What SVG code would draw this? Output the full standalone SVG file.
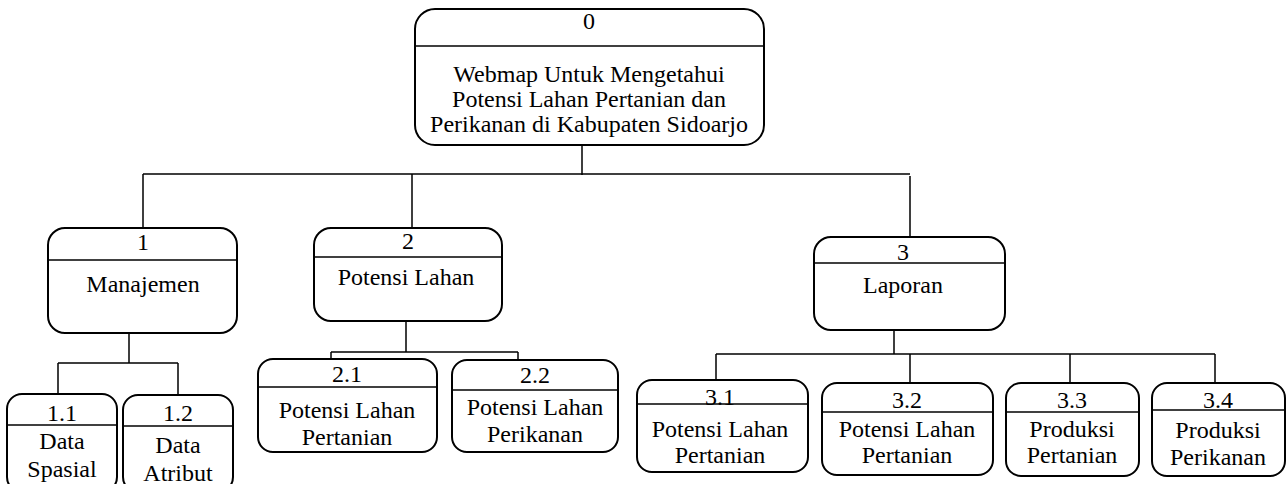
<svg xmlns="http://www.w3.org/2000/svg" width="1287" height="484" viewBox="0 0 1287 484">
<style>
.box{fill:#fff;stroke:#000;stroke-width:2}
.div{stroke:#000;stroke-width:1.6}
.con{fill:none;stroke:#000;stroke-width:1.5}
.t{font-family:'Liberation Serif','Times New Roman','DejaVu Serif',serif;font-size:24px;fill:#000;text-anchor:middle}
</style>
<rect width="1287" height="484" fill="#fff"/>
<g id="connectors">
<path class="con" d="M582 145V175M143 174H910M143 174V228M412 174V228M910 176V237"/>
<path class="con" d="M129 333V363M58 363H178M58 363V394M178 363V395"/>
<path class="con" d="M406 321V352M331 352H518M331 352V359M518 352V360"/>
<path class="con" d="M894 330V354M716 354H1215M716 354V380M910 354V383M1070 354V383M1215 354V383"/>
</g>
<g class="t" font-family="Liberation Serif, Times New Roman, DejaVu Serif, serif">
<g id="node0">
<rect class="box" x="415" y="9" width="349" height="136" rx="20"/>
<line class="div" x1="415" y1="46" x2="764" y2="46"/>
<text x="589" y="29">0</text>
<text x="589" y="82">Webmap Untuk Mengetahui</text>
<text x="589" y="107">Potensi Lahan Pertanian dan</text>
<text x="589" y="132">Perikanan di Kabupaten Sidoarjo</text>
</g>
<g id="node1">
<rect class="box" x="48" y="228" width="189" height="105" rx="17"/>
<line class="div" x1="48" y1="260" x2="237" y2="260"/>
<text x="143" y="250">1</text>
<text x="143" y="292">Manajemen</text>
</g>
<g id="node1_1">
<rect class="box" x="7" y="394" width="110" height="98" rx="15"/>
<line class="div" x1="7" y1="425" x2="117" y2="425"/>
<text x="62" y="421">1.1</text>
<text x="62" y="449">Data</text>
<text x="62" y="477">Spasial</text>
</g>
<g id="node1_2">
<rect class="box" x="123" y="395" width="110" height="97" rx="15"/>
<line class="div" x1="123" y1="426" x2="233" y2="426"/>
<text x="178" y="421">1.2</text>
<text x="178" y="453">Data</text>
<text x="178" y="481">Atribut</text>
</g>
<g id="node2">
<rect class="box" x="314" y="228" width="188" height="93" rx="17"/>
<line class="div" x1="314" y1="257" x2="502" y2="257"/>
<text x="408" y="249">2</text>
<text x="406" y="285">Potensi Lahan</text>
</g>
<g id="node2_1">
<rect class="box" x="258" y="359" width="179" height="93" rx="15"/>
<line class="div" x1="258" y1="387" x2="437" y2="387"/>
<text x="347" y="382">2.1</text>
<text x="347" y="418">Potensi Lahan</text>
<text x="347" y="445">Pertanian</text>
</g>
<g id="node2_2">
<rect class="box" x="452" y="360" width="166" height="92" rx="15"/>
<line class="div" x1="452" y1="390" x2="618" y2="390"/>
<text x="535" y="383">2.2</text>
<text x="535" y="415">Potensi Lahan</text>
<text x="535" y="442">Perikanan</text>
</g>
<g id="node3">
<rect class="box" x="814" y="237" width="191" height="93" rx="17"/>
<line class="div" x1="814" y1="263" x2="1005" y2="263"/>
<text x="903" y="260">3</text>
<text x="903" y="293">Laporan</text>
</g>
<g id="node3_1">
<rect class="box" x="637" y="380" width="171" height="92" rx="15"/>
<line class="div" x1="637" y1="404" x2="808" y2="404"/>
<text x="720" y="405">3.1</text>
<text x="720" y="437">Potensi Lahan</text>
<text x="720" y="463">Pertanian</text>
</g>
<g id="node3_2">
<rect class="box" x="822" y="383" width="171" height="92" rx="15"/>
<line class="div" x1="822" y1="412" x2="993" y2="412"/>
<text x="907" y="408">3.2</text>
<text x="907" y="437">Potensi Lahan</text>
<text x="907" y="463">Pertanian</text>
</g>
<g id="node3_3">
<rect class="box" x="1006" y="383" width="133" height="93" rx="15"/>
<line class="div" x1="1006" y1="412" x2="1139" y2="412"/>
<text x="1072" y="408">3.3</text>
<text x="1072" y="437">Produksi</text>
<text x="1072" y="463">Pertanian</text>
</g>
<g id="node3_4">
<rect class="box" x="1152" y="383" width="133" height="93" rx="15"/>
<line class="div" x1="1152" y1="410" x2="1285" y2="410"/>
<text x="1218" y="408">3.4</text>
<text x="1218" y="438">Produksi</text>
<text x="1218" y="465">Perikanan</text>
</g>
</g>
</svg>
